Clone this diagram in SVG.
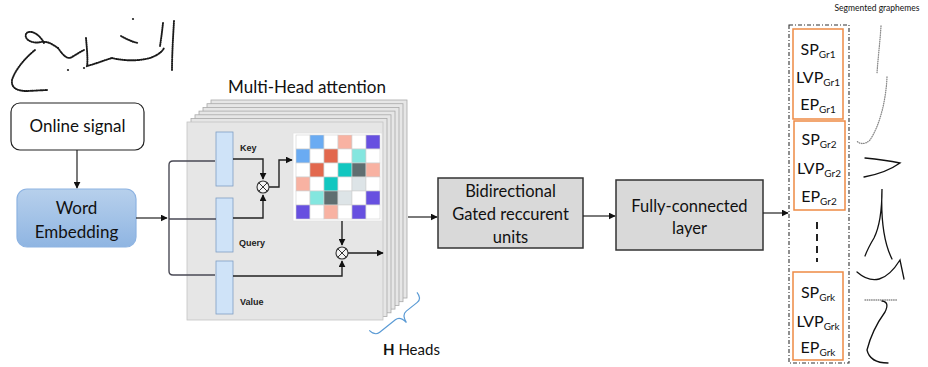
<svg xmlns="http://www.w3.org/2000/svg" width="928" height="367" viewBox="0 0 928 367">
  <defs>
    <marker id="arrow" viewBox="0 0 10 10" refX="9" refY="5" markerWidth="7" markerHeight="7" orient="auto" markerUnits="userSpaceOnUse">
      <path d="M0,0 L10,5 L0,10 z" fill="#111"/>
    </marker>
    <linearGradient id="embedFill" x1="0" y1="0" x2="0" y2="1">
      <stop offset="0" stop-color="#b7d0ec"/>
      <stop offset="1" stop-color="#8fb5e2"/>
    </linearGradient>
    <style>
      .lbl { font-family: Lato, "Liberation Sans", sans-serif; fill: #111; }
      .kqv { font-family: "Liberation Sans", Arial, sans-serif; font-weight: bold; font-size: 9px; fill: #222; }
      .box { fill: #d9d9d9; stroke: #333; stroke-width: 1.5; }
      .layer { fill: #e6e6e6; stroke: #a9a9a9; stroke-width: 0.8; }
      .bar { fill: #cfe3f8; stroke: #7f9fc4; stroke-width: 0.8; }
      .wire { fill: none; stroke: #222; stroke-width: 1.4; }
      .conn { fill: none; stroke: #222; stroke-width: 1.2; }
      .mult { fill: #f4f4f4; stroke: #333; stroke-width: 1.1; }
      .cell { stroke: #cfcfcf; stroke-width: 0.6; }
      .grp { fill: none; stroke: #ee8a44; stroke-width: 1.5; }
      .pen { fill: none; stroke: #1a1a1a; stroke-width: 1.9; stroke-linecap: round; stroke-dasharray: 0.8 1.3; }
      .graph { fill: none; stroke: #111; stroke-width: 1.3; stroke-linecap: round; }
      .graphDot { fill: none; stroke: #888; stroke-width: 1.3; stroke-linecap: round; stroke-dasharray: 0.6 1.6; }
    </style>
  </defs>

  <!-- handwritten input trajectory -->
  <g id="handwriting">
    <path class="pen" d="M44,43 C39,33 29,29 26,34 C24,40 33,44 41,42 C49,41 53,45 58,48"/>
    <path class="pen" d="M35,50 C25,58 15,70 12,80 C11,88 17,91 27,91 L47,90"/>
    <path class="pen" d="M58,48 C63,55 67,60 72,57 C77,54 80,52 84,50"/>
    <path class="pen" d="M86,38 C87,50 88,60 87,66 C95,64 105,60 112,58"/>
    <path class="pen" d="M112,58 C120,60 135,62 150,58 C158,55 162,52 164,48"/>
    <path class="pen" d="M121,36 C128,40 133,42 138,43"/>
    <path class="pen" d="M163,23 C162,32 161,40 160,46"/>
    <path class="pen" d="M174,21 C173,38 172,55 172,71"/>
    <circle cx="68" cy="70" r="1.1" fill="#222"/>
    <circle cx="84" cy="68" r="1.1" fill="#222"/>
    <circle cx="133" cy="19" r="1.1" fill="#222"/>
  </g>

  <g id="online-signal">
    <rect x="11" y="103" width="133" height="47" rx="9" fill="#fff" stroke="#222" stroke-width="1.2"/>
    <text class="lbl" x="77.5" y="132" font-size="17" text-anchor="middle">Online signal</text>
  </g>

  <g id="word-embedding">
    <rect x="17" y="189" width="119" height="58" rx="10" fill="url(#embedFill)" stroke="#8db3e2" stroke-width="1.2"/>
    <text class="lbl" x="76.5" y="214" font-size="17" text-anchor="middle">Word</text>
    <text class="lbl" x="76.5" y="238" font-size="17" text-anchor="middle">Embedding</text>
  </g>

  <g id="multi-head-attention">
    <text class="lbl" x="307" y="93" font-size="17" text-anchor="middle">Multi-Head attention</text>
    <!-- stacked heads, back to front -->
    <rect class="layer" x="211" y="100" width="196" height="198"/>
    <rect class="layer" x="207" y="103.7" width="196" height="198"/>
    <rect class="layer" x="203" y="107.4" width="196" height="198"/>
    <rect class="layer" x="199" y="111.1" width="196" height="198"/>
    <rect class="layer" x="195" y="114.8" width="196" height="198"/>
    <rect class="layer" x="191" y="118.5" width="196" height="198"/>
    <rect x="187" y="122" width="196" height="198" fill="#e6e6e6" stroke="#c4c4c4" stroke-width="0.8"/>

    <!-- key / query / value projections -->
    <rect class="bar" x="216" y="132" width="17" height="54"/>
    <rect class="bar" x="216" y="198" width="17" height="54"/>
    <rect class="bar" x="216" y="261" width="17" height="53"/>
    <text class="kqv" x="240" y="151">Key</text>
    <text class="kqv" x="239" y="246">Query</text>
    <text class="kqv" x="240" y="305">Value</text>

    <!-- attention weights -->
    <rect x="293" y="133" width="89" height="88" fill="#fff" stroke="#e2e2e2" stroke-width="0.8"/>
    <g id="attention-grid">
      <rect class="cell" x="296" y="135" width="14" height="14" fill="#fff"/>
      <rect class="cell" x="310" y="135" width="14" height="14" fill="#6aabf2"/>
      <rect class="cell" x="324" y="135" width="14" height="14" fill="#fff"/>
      <rect class="cell" x="338" y="135" width="14" height="14" fill="#f8b2a2"/>
      <rect class="cell" x="352" y="135" width="14" height="14" fill="#fff"/>
      <rect class="cell" x="366" y="135" width="14" height="14" fill="#6750e0"/>

      <rect class="cell" x="296" y="149" width="14" height="14" fill="#6aabf2"/>
      <rect class="cell" x="310" y="149" width="14" height="14" fill="#fff"/>
      <rect class="cell" x="324" y="149" width="14" height="14" fill="#e2684e"/>
      <rect class="cell" x="338" y="149" width="14" height="14" fill="#fff"/>
      <rect class="cell" x="352" y="149" width="14" height="14" fill="#84e6df"/>
      <rect class="cell" x="366" y="149" width="14" height="14" fill="#fff"/>

      <rect class="cell" x="296" y="163" width="14" height="14" fill="#fff"/>
      <rect class="cell" x="310" y="163" width="14" height="14" fill="#e2684e"/>
      <rect class="cell" x="324" y="163" width="14" height="14" fill="#fff"/>
      <rect class="cell" x="338" y="163" width="14" height="14" fill="#12c7c0"/>
      <rect class="cell" x="352" y="163" width="14" height="14" fill="#5f6e70"/>
      <rect class="cell" x="366" y="163" width="14" height="14" fill="#f8b2a2"/>

      <rect class="cell" x="296" y="177" width="14" height="14" fill="#f8b2a2"/>
      <rect class="cell" x="310" y="177" width="14" height="14" fill="#fff"/>
      <rect class="cell" x="324" y="177" width="14" height="14" fill="#12c7c0"/>
      <rect class="cell" x="338" y="177" width="14" height="14" fill="#fff"/>
      <rect class="cell" x="352" y="177" width="14" height="14" fill="#dde4e7"/>
      <rect class="cell" x="366" y="177" width="14" height="14" fill="#fff"/>

      <rect class="cell" x="296" y="191" width="14" height="14" fill="#fff"/>
      <rect class="cell" x="310" y="191" width="14" height="14" fill="#84e6df"/>
      <rect class="cell" x="324" y="191" width="14" height="14" fill="#5f6e70"/>
      <rect class="cell" x="338" y="191" width="14" height="14" fill="#dde4e7"/>
      <rect class="cell" x="352" y="191" width="14" height="14" fill="#fff"/>
      <rect class="cell" x="366" y="191" width="14" height="14" fill="#6750e0"/>

      <rect class="cell" x="296" y="205" width="14" height="14" fill="#6750e0"/>
      <rect class="cell" x="310" y="205" width="14" height="14" fill="#fff"/>
      <rect class="cell" x="324" y="205" width="14" height="14" fill="#f8b2a2"/>
      <rect class="cell" x="338" y="205" width="14" height="14" fill="#fff"/>
      <rect class="cell" x="352" y="205" width="14" height="14" fill="#6750e0"/>
      <rect class="cell" x="366" y="205" width="14" height="14" fill="#fff"/>
    </g>

    <!-- internal wiring -->
    <path class="wire" d="M233,159 H263 V179" marker-end="url(#arrow)"/>
    <path class="wire" d="M233,218 H263 V195" marker-end="url(#arrow)"/>
    <path class="wire" d="M269,187 H279 V160 H292" marker-end="url(#arrow)"/>
    <path class="wire" d="M342,221 V245" marker-end="url(#arrow)"/>
    <path class="wire" d="M233,276 H342 V261" marker-end="url(#arrow)"/>
    <path class="wire" d="M348,253 H383" marker-end="url(#arrow)"/>
    <g id="mult-1">
      <circle class="mult" cx="263" cy="187" r="6"/>
      <path d="M258.8,182.8 L267.2,191.2 M267.2,182.8 L258.8,191.2" stroke="#333" stroke-width="1"/>
    </g>
    <g id="mult-2">
      <circle class="mult" cx="342" cy="253" r="6"/>
      <path d="M337.8,248.8 L346.2,257.2 M346.2,248.8 L337.8,257.2" stroke="#333" stroke-width="1"/>
    </g>

    <!-- number of heads: brace laid along the stack's lower corner -->
    <path transform="translate(375,336) rotate(-38.5)" d="M-1,-8 Q0,0 6,0 L26,0 Q32,0 33,9 Q34,0 40,0 L54,0 Q60,0 60,-8" fill="none" stroke="#5b9bd5" stroke-width="1.2"/>
    <text class="lbl" x="383" y="355" font-size="15"><tspan font-weight="bold">H</tspan> Heads</text>
  </g>

  <g id="bigru">
    <rect class="box" x="438" y="178" width="145" height="70"/>
    <text class="lbl" x="510.5" y="197" font-size="16.5" text-anchor="middle">Bidirectional</text>
    <text class="lbl" x="510.5" y="220" font-size="16.5" text-anchor="middle">Gated reccurent</text>
    <text class="lbl" x="510.5" y="243" font-size="16.5" text-anchor="middle">units</text>
  </g>

  <g id="fully-connected">
    <rect class="box" x="616" y="180" width="147" height="70"/>
    <text class="lbl" x="689.5" y="212" font-size="16.5" text-anchor="middle">Fully-connected</text>
    <text class="lbl" x="689.5" y="234" font-size="16.5" text-anchor="middle">layer</text>
  </g>

  <g id="outputs">
    <rect x="789" y="25" width="60" height="338" fill="none" stroke="#333" stroke-width="1.1" stroke-dasharray="4 2 1 2"/>
    <g id="grapheme-1">
      <rect class="grp" x="793" y="29" width="50" height="90"/>
      <text class="lbl" x="818" y="55" font-size="16" text-anchor="middle">SP<tspan font-size="10" dy="3">Gr1</tspan></text>
      <text class="lbl" x="818" y="83" font-size="16" text-anchor="middle">LVP<tspan font-size="10" dy="3">Gr1</tspan></text>
      <text class="lbl" x="818" y="110" font-size="16" text-anchor="middle">EP<tspan font-size="10" dy="3">Gr1</tspan></text>
    </g>
    <g id="grapheme-2">
      <rect class="grp" x="794" y="121" width="51" height="89"/>
      <text class="lbl" x="819" y="145" font-size="16" text-anchor="middle">SP<tspan font-size="10" dy="3">Gr2</tspan></text>
      <text class="lbl" x="819" y="174" font-size="16" text-anchor="middle">LVP<tspan font-size="10" dy="3">Gr2</tspan></text>
      <text class="lbl" x="819" y="202" font-size="16" text-anchor="middle">EP<tspan font-size="10" dy="3">Gr2</tspan></text>
    </g>
    <line x1="817" y1="222" x2="817" y2="262" stroke="#222" stroke-width="2" stroke-dasharray="7 5"/>
    <g id="grapheme-k">
      <rect class="grp" x="793" y="272" width="50" height="88"/>
      <text class="lbl" x="818" y="298" font-size="16" text-anchor="middle">SP<tspan font-size="10" dy="3">Grk</tspan></text>
      <text class="lbl" x="818" y="327" font-size="16" text-anchor="middle">LVP<tspan font-size="10" dy="3">Grk</tspan></text>
      <text class="lbl" x="818" y="353" font-size="16" text-anchor="middle">EP<tspan font-size="10" dy="3">Grk</tspan></text>
    </g>
  </g>

  <g id="segmented-graphemes">
    <text class="lbl" x="877" y="11" font-size="8.5" text-anchor="middle">Segmented graphemes</text>
    <path class="graphDot" d="M881,26 C880,42 878,58 877,73"/>
    <path class="graphDot" d="M887,77 C886,100 880,125 870,140 C865,145 859,144 857,141"/>
    <path class="graph" d="M865,158 Q885,160 900,163 Q886,173 864,177"/>
    <path class="graph" d="M865,256 Q868,248 874,238 Q882,222 882,189 Q880,235 892,259"/>
    <path class="graph" d="M857,272 Q880,292 900,260 L904,279"/>
    <path class="graphDot" d="M865,300 H898"/>
    <path class="graph" d="M882,301 Q890,302 885,312 Q872,330 867,350 Q870,363 888,363"/>
  </g>

  <g id="connectors">
    <path class="conn" d="M77,150 V188" stroke="#555" marker-end="url(#arrow)"/>
    <path class="conn" d="M136,218 H167" marker-end="url(#arrow)"/>
    <path d="M215,161 H173 Q169,161 169,165 V271 Q169,275 173,275 H215 M169,219 H216" fill="none" stroke="#4a4a55" stroke-width="1.4"/>
    <path class="conn" d="M408,217 H437" marker-end="url(#arrow)"/>
    <path class="conn" d="M583,216 H615" marker-end="url(#arrow)"/>
    <path class="conn" d="M763,213 H788" marker-end="url(#arrow)"/>
  </g>
</svg>
